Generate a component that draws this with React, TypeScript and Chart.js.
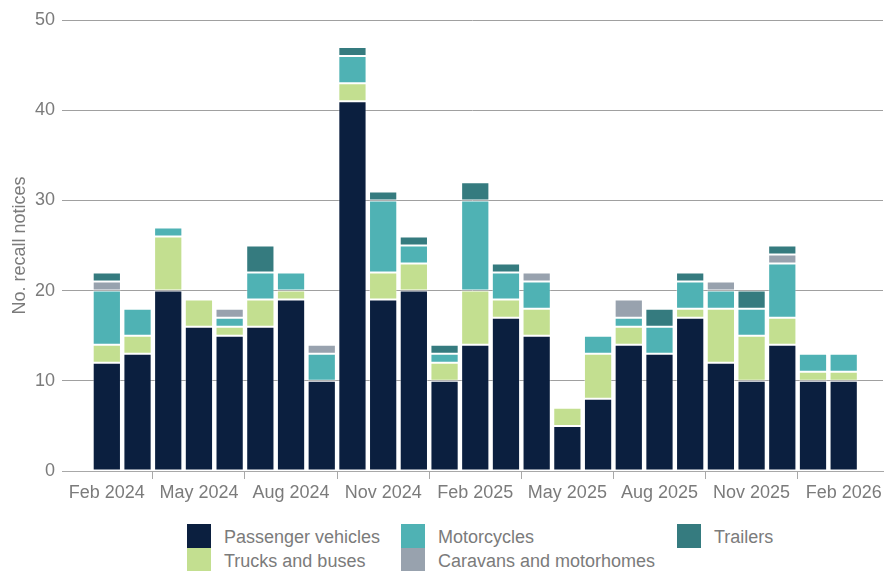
import React, { useEffect, useRef } from "react";
import { Chart, registerables } from "chart.js";

Chart.register(...registerables);

const months = [
  "Feb 2024", "Mar 2024", "Apr 2024", "May 2024", "Jun 2024", "Jul 2024",
  "Aug 2024", "Sep 2024", "Oct 2024", "Nov 2024", "Dec 2024", "Jan 2025",
  "Feb 2025", "Mar 2025", "Apr 2025", "May 2025", "Jun 2025", "Jul 2025",
  "Aug 2025", "Sep 2025", "Oct 2025", "Nov 2025", "Dec 2025", "Jan 2026",
  "Feb 2026",
];

const passengerVehicles = [12, 13, 20, 16, 15, 16, 19, 10, 41, 19, 20, 10, 14, 17, 15, 5, 8, 14, 13, 17, 12, 10, 14, 10, 10];
const trucksAndBuses = [2, 2, 6, 3, 1, 3, 1, 0, 2, 3, 3, 2, 6, 2, 3, 2, 5, 2, 0, 1, 6, 5, 3, 1, 1];
const motorcycles = [6, 3, 1, 0, 1, 3, 2, 3, 3, 8, 2, 1, 10, 3, 3, 0, 2, 1, 3, 3, 2, 3, 6, 2, 2];
const caravansAndMotorhomes = [1, 0, 0, 0, 1, 0, 0, 1, 0, 0, 0, 0, 0, 0, 1, 0, 0, 2, 0, 0, 1, 0, 1, 0, 0];
const trailers = [1, 0, 0, 0, 0, 3, 0, 0, 1, 1, 1, 1, 2, 1, 0, 0, 0, 0, 2, 1, 0, 2, 1, 0, 0];

const yTicks = [0, 10, 20, 30, 40, 50];
const yTitle = "No. recall notices";

const series = [
  { label: "Passenger vehicles", data: passengerVehicles, color: "#0b1f3f" },
  { label: "Trucks and buses", data: trucksAndBuses, color: "#c3df90" },
  { label: "Motorcycles", data: motorcycles, color: "#4fb2b4" },
  { label: "Caravans and motorhomes", data: caravansAndMotorhomes, color: "#98a2ae" },
  { label: "Trailers", data: trailers, color: "#357b7f" },
];

// legend grid order (column-wise in the reference)
const legendOrder = [
  "Passenger vehicles", "Motorcycles", "Trailers",
  "Trucks and buses", "Caravans and motorhomes",
];

const FONT = "'Liberation Sans', Arial, sans-serif";
const TEXT = "#7b7b7b";
const W = 886;
const H = 515;
const PLOT_BOTTOM = 471;

export default function App() {
  const ref = useRef<HTMLCanvasElement | null>(null);

  useEffect(() => {
    if (!ref.current) return;
    const chart = new Chart(ref.current, {
      type: "bar",
      data: {
        datasets: series.map((s) => ({
          label: s.label,
          data: s.data.map((v, i) => ({ x: i, y: v })),
          backgroundColor: s.color,
          borderColor: "rgba(255,255,255,0.35)",
          borderWidth: 1,
          borderSkipped: false,
          barPercentage: 0.92,
          categoryPercentage: 1,
        })),
      },
      options: {
        responsive: false,
        animation: false,
        devicePixelRatio: 1,
        layout: { padding: { top: 20, right: 3, left: 0, bottom: 0 } },
        plugins: {
          legend: { display: false },
          tooltip: { enabled: false },
        },
        scales: {
          x: {
            type: "linear",
            stacked: true,
            min: -1.46,
            max: 25.28,
            offset: false,
            grid: {
              drawOnChartArea: false,
              drawTicks: true,
              tickLength: 8,
              color: "#a8a8a8",
            },
            border: { display: true, color: "#a8a8a8" },
            ticks: {
              stepSize: 3,
              includeBounds: false,
              autoSkip: false,
              maxRotation: 0,
              padding: 3,
              color: TEXT,
              font: { size: 18, family: FONT },
              callback: (v: any) => months[Number(v)] ?? "",
            },
            afterFit: (s: any) => {
              s.height = H - PLOT_BOTTOM;
            },
          },
          y: {
            stacked: true,
            min: 0,
            max: 50,
            grid: { drawTicks: false, color: "#a0a0a0" },
            border: { display: false },
            afterBuildTicks: (s: any) => {
              s.ticks = yTicks.map((v) => ({ value: v }));
            },
            ticks: {
              padding: 7,
              color: TEXT,
              font: { size: 18, family: FONT },
            },
            title: {
              display: true,
              text: yTitle,
              color: TEXT,
              font: { size: 18, family: FONT },
              padding: { top: 9, bottom: 0 },
            },
            afterFit: (s: any) => {
              s.width = 62;
            },
          },
        },
      },
    } as any);
    return () => chart.destroy();
  }, []);

  const byLabel: Record<string, string> = {};
  series.forEach((s) => (byLabel[s.label] = s.color));

  return (
    <div style={{ position: "fixed", left: 0, top: 0, width: W, height: 571, background: "#fff", overflow: "hidden" }}>
      <canvas ref={ref} width={W} height={H} style={{ display: "block", width: W, height: H }} />
      <div
        style={{
          position: "absolute",
          left: 187,
          top: 524,
          display: "grid",
          gridTemplateColumns: "214px 276px auto",
          gridAutoRows: "24px",
          fontFamily: FONT,
          fontSize: 18,
          color: TEXT,
        }}
      >
        {legendOrder.map((l) => (
          <div key={l} style={{ display: "flex", alignItems: "center", whiteSpace: "nowrap" }}>
            <span style={{ display: "inline-block", width: 24, height: 24, background: byLabel[l], marginRight: 13 }} />
            <span style={{ paddingTop: 3 }}>{l}</span>
          </div>
        ))}
      </div>
    </div>
  );
}
